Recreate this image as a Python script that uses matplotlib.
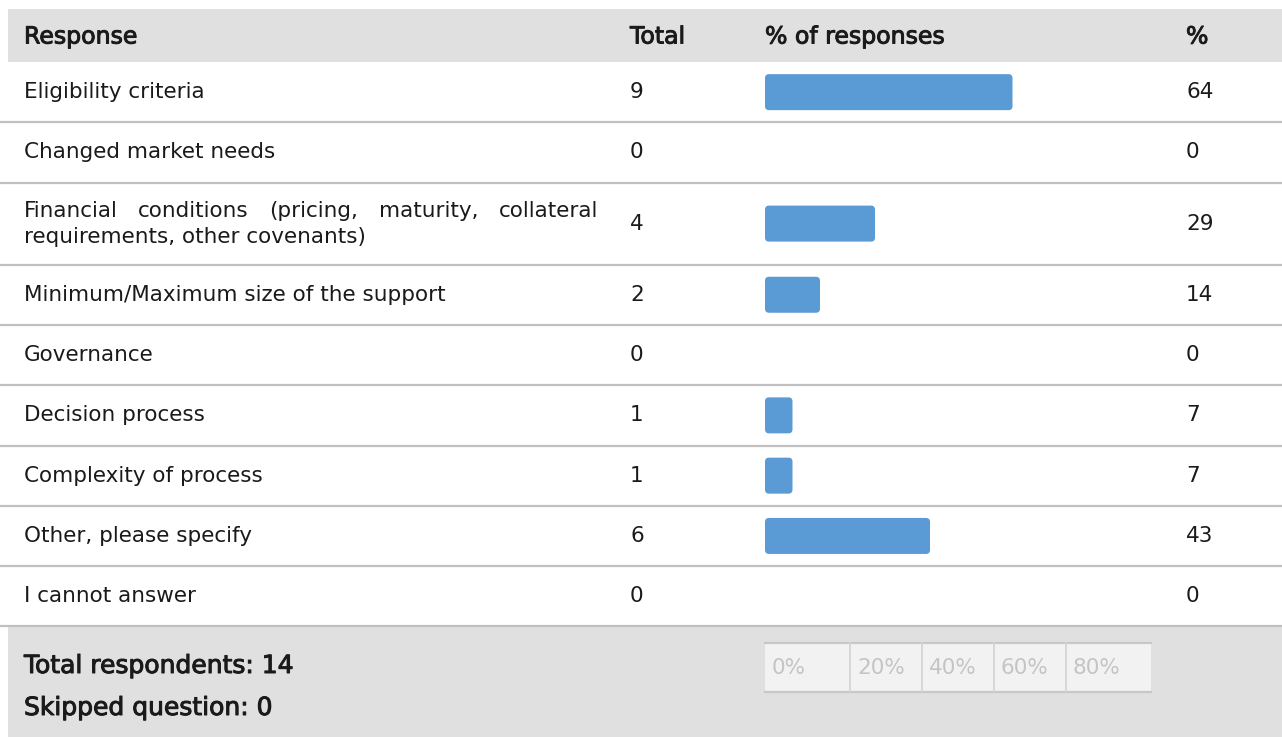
import matplotlib.pyplot as plt
import matplotlib.patheffects as pe
from matplotlib.patches import FancyBboxPatch, Rectangle

plt.rcParams['font.family'] = ['DejaVu Sans']

# survey data
responses = [
    "Eligibility criteria",
    "Changed market needs",
    "Financial conditions (pricing, maturity, collateral\nrequirements, other covenants)",
    "Minimum/Maximum size of the support",
    "Governance",
    "Decision process",
    "Complexity of process",
    "Other, please specify",
    "I cannot answer",
]
totals = [9, 0, 4, 2, 0, 1, 1, 6, 0]
total_respondents = 14
skipped = 0
headers = ["Response", "Total", "% of responses", "%"]
scale_labels = ["0%", "20%", "40%", "60%", "80%"]

W, H = 1282, 737
fig = plt.figure(figsize=(W / 100, H / 100), dpi=100)
ax = fig.add_axes([0, 0, 1, 1])
ax.set_xlim(0, W)
ax.set_ylim(H, 0)
ax.axis('off')

col_x = [24, 630, 765, 1186]
bar_x0 = 765
px_per_pct = 3.85
bar_h = 36
line_col = '#c0c0c0'
gray_bg = '#e0e0e0'
txt_col = '#1a1a1a'
fs = 15.5
fs_head = 17
fs_foot = 18
medium = [pe.withStroke(linewidth=0.7, foreground=txt_col)]

# header band
head_top, head_bot = 9, 62
ax.add_patch(Rectangle((8, head_top), W - 8, head_bot - head_top, color=gray_bg, lw=0))
for x, h in zip(col_x, headers):
    ax.text(x, (head_top + head_bot) / 2 + 1, h, fontsize=fs_head, color=txt_col,
            va='center', ha='left', path_effects=medium)

fig.canvas.draw()
renderer = fig.canvas.get_renderer()

y = head_bot
for resp, t in zip(responses, totals):
    rh = 82 if '\n' in resp else 60.3
    yc = y + rh / 2
    pct = t / total_respondents * 100
    if '\n' in resp:
        first, second = resp.split('\n')
        words = first.split(' ')
        # justified first line between 24 and 598
        objs = [ax.text(0, yc - 13, w_, fontsize=fs, color=txt_col, va='center', ha='left')
                for w_ in words]
        widths = [o.get_window_extent(renderer).width for o in objs]
        gap = (598 - 24 - sum(widths)) / (len(words) - 1)
        xx = 24
        for o, wd in zip(objs, widths):
            o.set_x(xx)
            xx += wd + gap
        ax.text(24, yc + 13, second, fontsize=fs, color=txt_col, va='center', ha='left')
    else:
        ax.text(24, yc, resp, fontsize=fs, color=txt_col, va='center', ha='left')
    ax.text(col_x[1], yc, str(t), fontsize=fs, color=txt_col, va='center', ha='left')
    ax.text(col_x[3], yc, str(int(round(pct))), fontsize=fs, color=txt_col,
            va='center', ha='left')
    if t > 0:
        ax.add_patch(FancyBboxPatch((bar_x0, yc - bar_h / 2), pct * px_per_pct, bar_h,
                                    boxstyle="round,pad=0,rounding_size=4",
                                    fc='#5b9bd5', ec='none'))
    y += rh
    ax.plot([0, W], [y, y], color=line_col, lw=1.6, solid_capstyle='butt')

# footer
foot_top = y
ax.add_patch(Rectangle((8, foot_top + 1), W - 8, H - foot_top, color=gray_bg, lw=0))
ax.text(24, 666, f"Total respondents: {total_respondents}", fontsize=fs_foot,
        color=txt_col, va='center', ha='left', path_effects=medium)
ax.text(24, 708, f"Skipped question: {skipped}", fontsize=fs_foot,
        color=txt_col, va='center', ha='left', path_effects=medium)

# percentage scale box
sc_x0, sc_x1, sc_y0, sc_y1 = 765, 1151, 643, 692
ax.add_patch(Rectangle((sc_x0, sc_y0), sc_x1 - sc_x0, sc_y1 - sc_y0, color='#f2f2f2', lw=0))
ax.plot([sc_x0, sc_x1], [sc_y0, sc_y0], color='#c8c8c8', lw=1.6)
ax.plot([sc_x0, sc_x1], [sc_y1, sc_y1], color='#c8c8c8', lw=1.6)
div_x = [sc_x0, 850, 922, 994, 1066]
for i, lab in enumerate(scale_labels):
    if i > 0:
        ax.plot([div_x[i], div_x[i]], [sc_y0, sc_y1], color='#d2d2d2', lw=1.2)
    ax.text(div_x[i] + 7, (sc_y0 + sc_y1) / 2, lab, fontsize=fs, color='#c4c4c4',
            va='center', ha='left')

fig.savefig("out.png", dpi=100)
